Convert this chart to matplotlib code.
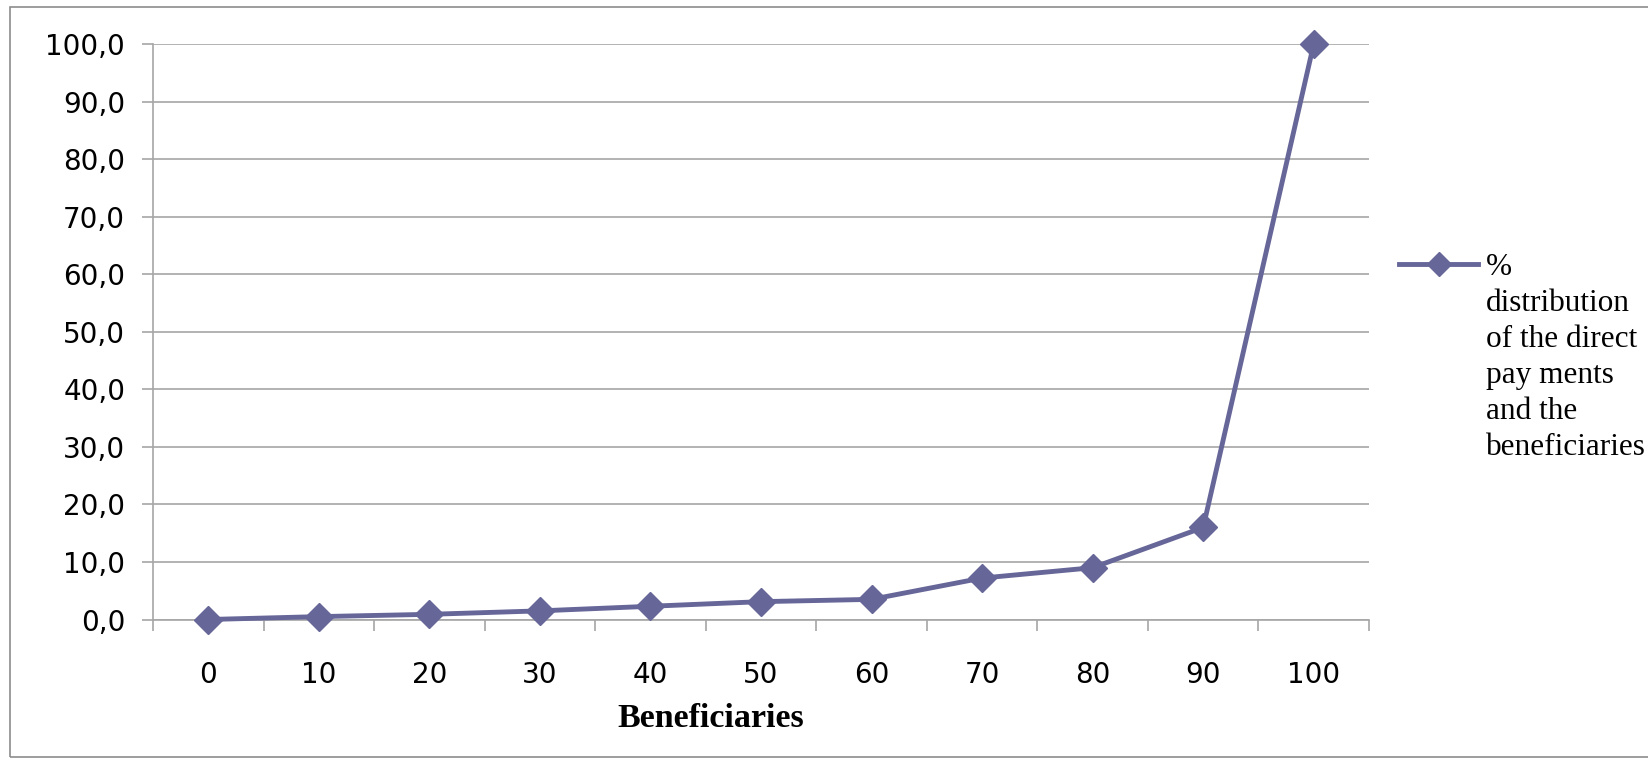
import matplotlib
matplotlib.use("Agg")
import matplotlib.pyplot as plt
from matplotlib.lines import Line2D
from matplotlib.patches import Rectangle

# data
categories = ['0', '10', '20', '30', '40', '50', '60', '70', '80', '90', '100']
share = [0.0, 0.5, 0.9, 1.5, 2.3, 3.1, 3.5, 7.2, 9.0, 16.0, 100.0]
series_label = "%\ndistribution\nof the direct\npay ments\nand the\nbeneficiaries"
y_ticks = [0, 10, 20, 30, 40, 50, 60, 70, 80, 90, 100]

line_color = '#666699'
grid_color = '#a6a6a6'

fig = plt.figure(figsize=(16.48, 7.62), dpi=100)
ax = fig.add_axes([153 / 1648, 1 - 619.5 / 762, (1369 - 153) / 1648, (619.5 - 44) / 762])

x = list(range(len(categories)))
ax.plot(x, share, color=line_color, lw=3.5, marker='D', markersize=14.5,
        markerfacecolor=line_color, markeredgecolor=line_color, zorder=3, clip_on=False)

ax.set_xlim(-0.5, len(categories) - 0.5)
ax.set_ylim(0, 100)
ax.set_yticks(y_ticks)
ax.set_yticklabels([f"{v:.1f}".replace('.', ',') for v in y_ticks])
ax.set_xticks(x)
ax.set_xticklabels(categories)
ax.set_xticks([i - 0.5 for i in range(len(categories) + 1)], minor=True)
ax.tick_params(axis='x', which='major', length=0, pad=30, labelsize=20)
ax.tick_params(axis='x', which='minor', length=8, color=grid_color, width=1.2)
ax.tick_params(axis='y', length=8, color=grid_color, width=1.2, pad=12, labelsize=20)

ax.grid(axis='y', color=grid_color, lw=1.2)
ax.set_axisbelow(True)
for side in ['top', 'right']:
    ax.spines[side].set_visible(False)
for side in ['left', 'bottom']:
    ax.spines[side].set_color(grid_color)
    ax.spines[side].set_linewidth(1.2)

# the axis title sits a little left of the plot centre in the original
ax.set_xlabel("Beneficiaries", family='Liberation Serif', fontweight='bold',
              fontsize=24.5)
ax.xaxis.set_label_coords(0.459, -0.145)

# legend drawn by hand so the marker sits on the first text line
ly = 1 - 264 / 762
fig.add_artist(Line2D([1399 / 1648, 1478 / 1648], [ly, ly], color=line_color, lw=3.5))
fig.add_artist(Line2D([1438.5 / 1648], [ly], color=line_color, lw=0,
                      marker='D', markersize=12, markerfacecolor=line_color,
                      markeredgecolor=line_color))
fig.text(1486 / 1648, 1 - 253 / 762, series_label, family='Liberation Serif',
         fontsize=22.5, va='top', ha='left', linespacing=1.32)

# outer chart border
fig.add_artist(Rectangle((10 / 1648, 5 / 762), 2, 1 - 12 / 762, transform=fig.transFigure,
                         fill=False, edgecolor='#8c8c8c', lw=1.2))

fig.savefig("out.png", dpi=100)
